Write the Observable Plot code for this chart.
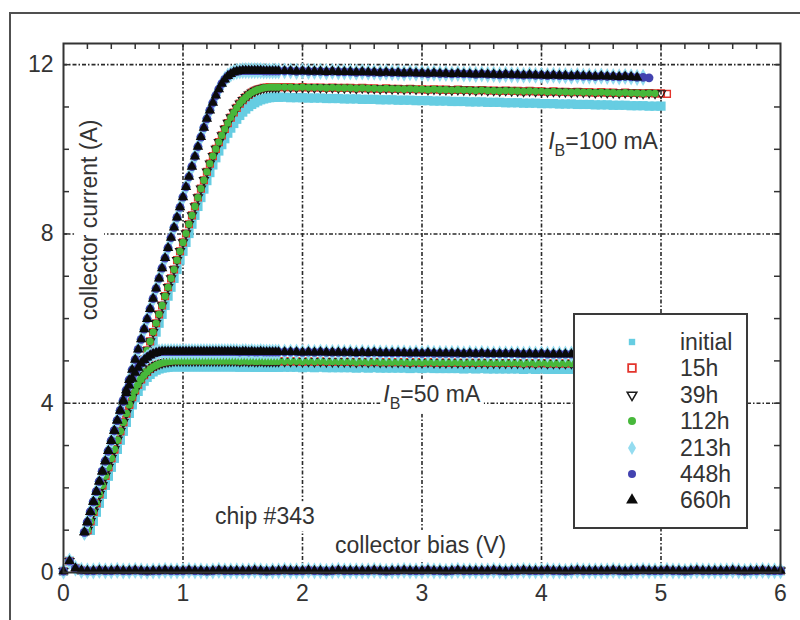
<!DOCTYPE html>
<html><head><meta charset="utf-8">
<script src="https://cdn.jsdelivr.net/npm/d3@7"></script>
<script src="https://cdn.jsdelivr.net/npm/@observablehq/plot@0.6"></script>
<style>
body{margin:0;background:#fff;}
#wrap{position:relative;width:800px;height:620px;overflow:hidden;font-family:"Liberation Sans",Arial,sans-serif;color:#333;}
#chart{position:absolute;left:0;top:0;}
#border{position:absolute;left:9px;top:12px;width:820px;height:640px;border-top:2px solid #505050;border-left:2px solid #505050;}
#legend{position:absolute;left:573px;top:313px;width:175px;height:216px;box-sizing:border-box;border:2px solid #3a3a3a;background:#fff;}
.row{position:absolute;left:0;height:26px;width:100%;}
.row svg{position:absolute;left:47px;top:3px;}
.row span{position:absolute;left:105px;top:0;font-size:23px;line-height:26px;color:#333;}
</style></head>
<body><div id="wrap"><div id="chart"></div><div id="border"></div><div id="legend"></div></div>
<script>
const seriesNames = ["initial","15h","39h","112h","213h","448h","660h"];

const volts = [
 0.175,0.2,0.225,0.25,0.275,0.3,0.325,0.35,0.375,0.4,
 0.425,0.45,0.475,0.5,0.525,0.55,0.575,0.6,0.625,0.65,
 0.675,0.7,0.725,0.75,0.775,0.8,0.825,0.85,0.875,0.9,
 0.925,0.95,0.975,1.0,1.025,1.05,1.075,1.1,1.125,1.15,
 1.175,1.2,1.225,1.25,1.275,1.3,1.325,1.35,1.375,1.4,
 1.425,1.45,1.475,1.5,1.525,1.55,1.575,1.6,1.625,1.65,
 1.675,1.7,1.725,1.75,1.775,1.8,
 1.85,1.9,1.95,2.0,2.05,2.1,2.15,2.2,2.25,2.3,
 2.35,2.4,2.45,2.5,2.55,2.6,2.65,2.7,2.75,2.8,
 2.85,2.9,2.95,3.0,3.05,3.1,3.15,3.2,3.25,3.3,
 3.35,3.4,3.45,3.5,3.55,3.6,3.65,3.7,3.75,3.8,
 3.85,3.9,3.95,4.0,4.05,4.1,4.15,4.2,4.25,4.3,
 4.35,4.4,4.45,4.5,4.55,4.6,4.65,4.7,4.75,4.8,
 4.85,4.9,4.95,5.0,5.05
];

// I_B = 100 mA
const cur100Fast = [
 0.95,1.19,1.43,1.67,1.91,2.15,2.39,2.63,2.87,3.11,
 3.35,3.59,3.83,4.07,4.31,4.55,4.79,5.03,5.27,5.51,
 5.75,5.99,6.23,6.47,6.71,6.95,7.19,7.43,7.67,7.91,
 8.15,8.39,8.63,8.87,9.11,9.35,9.59,9.83,10.06,10.29,
 10.51,10.72,10.92,11.1,11.27,11.42,11.55,11.65,11.73,11.78,
 11.82,11.84,11.85,11.86,11.86,11.86,11.86,11.86,11.86,11.86,
 11.85,11.85,11.85,11.85,11.85,11.85,
 11.85,11.85,11.84,11.85,11.84,11.84,11.84,11.83,11.84,11.83,
 11.83,11.83,11.82,11.83,11.82,11.82,11.81,11.82,11.81,11.81,
 11.8,11.81,11.8,11.8,11.79,11.8,11.79,11.79,11.78,11.79,
 11.78,11.78,11.77,11.78,11.77,11.77,11.76,11.77,11.76,11.76,
 11.75,11.76,11.75,11.75,11.74,11.75,11.74,11.74,11.73,11.74,
 11.73,11.73,11.72,11.73,11.72,11.72,11.71,11.72,11.71,11.7,
 11.7,11.69
];
const cur100Slow = [
 null,1.0,1.21,1.43,1.64,1.85,2.06,2.28,2.49,2.7,
 2.91,3.13,3.34,3.55,3.76,3.98,4.19,4.4,4.61,4.83,
 5.04,5.25,5.46,5.68,5.89,6.1,6.31,6.53,6.74,6.95,
 7.16,7.38,7.59,7.8,8.01,8.23,8.44,8.65,8.86,9.07,
 9.27,9.47,9.66,9.84,10.01,10.17,10.33,10.48,10.62,10.75,
 10.87,10.98,11.08,11.16,11.23,11.29,11.34,11.38,11.41,11.43,
 11.45,11.46,11.47,11.47,11.47,11.47,
 11.47,11.47,11.46,11.47,11.46,11.46,11.46,11.45,11.46,11.45,
 11.45,11.45,11.44,11.45,11.44,11.44,11.43,11.44,11.43,11.43,
 11.42,11.43,11.42,11.42,11.41,11.42,11.41,11.41,11.4,11.41,
 11.4,11.4,11.39,11.4,11.39,11.39,11.38,11.39,11.38,11.38,
 11.37,11.38,11.37,11.37,11.36,11.37,11.36,11.36,11.35,11.36,
 11.35,11.35,11.34,11.35,11.34,11.34,11.33,11.34,11.33,11.33,
 11.32,11.33,11.32,11.32,11.31
];
const cur100Initial = [
 null,null,1.0,1.21,1.43,1.64,1.85,2.06,2.28,2.49,
 2.7,2.91,3.13,3.34,3.55,3.76,3.98,4.19,4.4,4.61,
 4.83,5.04,5.25,5.46,5.68,5.89,6.1,6.31,6.53,6.74,
 6.95,7.16,7.38,7.59,7.8,8.01,8.23,8.44,8.65,8.86,
 9.06,9.26,9.45,9.63,9.8,9.96,10.11,10.25,10.38,10.5,
 10.61,10.71,10.8,10.88,10.95,11.01,11.06,11.1,11.14,11.17,
 11.19,11.21,11.22,11.23,11.23,11.23,
 11.23,11.22,11.22,11.22,11.21,11.21,11.21,11.2,11.2,11.2,
 11.19,11.19,11.19,11.18,11.18,11.18,11.17,11.17,11.17,11.16,
 11.16,11.16,11.15,11.15,11.15,11.14,11.14,11.14,11.13,11.13,
 11.13,11.12,11.12,11.12,11.11,11.11,11.11,11.1,11.1,11.1,
 11.09,11.09,11.09,11.08,11.08,11.08,11.07,11.07,11.07,11.06,
 11.06,11.06,11.05,11.05,11.05,11.04,11.04,11.04,11.03,11.03,
 11.03,11.02,11.02,11.02
];

// I_B = 50 mA
const cur50Fast = [
 0.95,1.19,1.43,1.67,1.91,2.15,2.39,2.63,2.87,3.11,
 3.35,3.59,3.82,4.04,4.24,4.42,4.58,4.72,4.84,4.94,
 5.02,5.08,5.13,5.17,5.19,5.21,5.22,5.22,5.22,5.22,
 5.22,5.22,5.22,5.22,5.22,5.22,5.22,5.22,5.22,5.22,
 5.22,5.22,5.22,5.22,5.22,5.22,5.22,5.22,5.22,5.22,
 5.22,5.22,5.21,5.22,5.22,5.21,5.22,5.21,5.21,5.22,
 5.21,5.21,5.21,5.21,5.21,5.21,
 5.21,5.21,5.21,5.2,5.21,5.2,5.21,5.2,5.2,5.2,
 5.2,5.2,5.19,5.2,5.19,5.2,5.19,5.19,5.19,5.19,
 5.19,5.18,5.19,5.18,5.19,5.18,5.18,5.18,5.18,5.18,
 5.17,5.18,5.17,5.18,5.17,5.17,5.17,5.17,5.17,5.17,
 5.16,5.17,5.16,5.17,5.16,5.16,5.16,5.16,5.16,5.16,
 5.15,5.16,5.15,5.15,5.15,5.15,5.15,5.15,5.15,5.15,
 5.14,5.15,5.14,5.14
];
const cur50Slow = [
 null,1.0,1.21,1.43,1.64,1.85,2.06,2.28,2.49,2.7,
 2.91,3.13,3.34,3.55,3.76,3.96,4.14,4.3,4.44,4.56,
 4.66,4.74,4.81,4.86,4.9,4.93,4.95,4.97,4.98,4.99,
 5.0,5.0,5.0,5.0,5.0,5.0,5.0,5.0,5.0,5.0,
 5.0,5.0,5.0,5.0,5.0,5.0,5.0,5.0,5.0,5.0,
 5.0,5.0,4.99,5.0,5.0,4.99,5.0,4.99,4.99,5.0,
 4.99,4.99,4.99,4.99,4.99,4.99,
 4.99,4.99,4.99,4.98,4.99,4.98,4.99,4.98,4.98,4.98,
 4.98,4.98,4.97,4.98,4.97,4.98,4.97,4.97,4.97,4.97,
 4.97,4.96,4.97,4.96,4.97,4.96,4.96,4.96,4.96,4.96,
 4.95,4.96,4.95,4.96,4.95,4.95,4.95,4.95,4.95,4.95,
 4.94,4.95,4.94,4.95,4.94,4.94,4.94,4.94,4.94,4.94,
 4.93,4.94,4.93,4.93,4.93,4.93,4.93,4.93,4.93,4.93,
 4.92,4.93,4.92,4.92
];
const cur50Initial = [
 null,null,1.0,1.21,1.43,1.64,1.85,2.06,2.28,2.49,
 2.7,2.91,3.13,3.34,3.55,3.76,3.96,4.13,4.28,4.41,
 4.52,4.61,4.68,4.74,4.78,4.81,4.83,4.84,4.85,4.86,
 4.86,4.86,4.86,4.86,4.86,4.86,4.86,4.86,4.86,4.86,
 4.86,4.86,4.86,4.86,4.86,4.86,4.86,4.86,4.86,4.86,
 4.86,4.86,4.85,4.86,4.86,4.85,4.86,4.85,4.85,4.86,
 4.85,4.85,4.85,4.85,4.85,4.85,
 4.85,4.85,4.85,4.84,4.85,4.84,4.85,4.84,4.84,4.84,
 4.84,4.84,4.83,4.84,4.83,4.84,4.83,4.83,4.83,4.83,
 4.83,4.82,4.83,4.82,4.83,4.82,4.82,4.82,4.82,4.82,
 4.81,4.82,4.81,4.82,4.81,4.81,4.81,4.81,4.81,4.81,
 4.8,4.81,4.8,4.81,4.8,4.8,4.8,4.8,4.8,4.8,
 4.79,4.8,4.79,4.79,4.79,4.79,4.79,4.79,4.79,4.79,
 4.78,4.79,4.78,4.78
];

// last bias point of each series (same order as seriesNames)
const lastV100 = [5.0, 5.05, 5.0, 4.95, 4.85, 4.9, 4.8];
const lastV50  = [5.0, 5.0, 5.0, 5.0, 5.0, 5.0, 5.0];

// I_B = 0 sweep
const voltsZero = [
 0,0.05,0.1,0.15,0.2,0.25,0.3,0.35,0.4,0.45,
 0.5,0.55,0.6,0.65,0.7,0.75,0.8,0.85,0.9,0.95,
 1.0,1.05,1.1,1.15,1.2,1.25,1.3,1.35,1.4,1.45,
 1.5,1.55,1.6,1.65,1.7,1.75,1.8,1.85,1.9,1.95,
 2.0,2.05,2.1,2.15,2.2,2.25,2.3,2.35,2.4,2.45,
 2.5,2.55,2.6,2.65,2.7,2.75,2.8,2.85,2.9,2.95,
 3.0,3.05,3.1,3.15,3.2,3.25,3.3,3.35,3.4,3.45,
 3.5,3.55,3.6,3.65,3.7,3.75,3.8,3.85,3.9,3.95,
 4.0,4.05,4.1,4.15,4.2,4.25,4.3,4.35,4.4,4.45,
 4.5,4.55,4.6,4.65,4.7,4.75,4.8,4.85,4.9,4.95,
 5.0,5.05,5.1,5.15,5.2,5.25,5.3,5.35,5.4,5.45,
 5.5,5.55,5.6,5.65,5.7,5.75,5.8,5.85,5.9,5.95,
 6.0
];
const curZero = [
 0.03,0.27,0.1,0.05,0.04,0.04,0.05,0.04,0.04,0.05,
 0.04,0.04,0.05,0.04,0.03,0.04,0.04,0.05,0.04,0.04,
 0.04,0.05,0.04,0.04,0.03,0.04,0.05,0.04,0.04,0.04,
 0.04,0.04,0.05,0.04,0.03,0.04,0.04,0.05,0.04,0.04,
 0.04,0.05,0.04,0.04,0.03,0.04,0.05,0.04,0.04,0.04,
 0.04,0.04,0.05,0.04,0.03,0.04,0.04,0.05,0.04,0.04,
 0.04,0.05,0.04,0.04,0.03,0.04,0.05,0.04,0.04,0.04,
 0.04,0.04,0.05,0.04,0.03,0.04,0.04,0.05,0.04,0.04,
 0.04,0.05,0.04,0.04,0.03,0.04,0.05,0.04,0.04,0.04,
 0.04,0.04,0.05,0.04,0.03,0.04,0.04,0.05,0.04,0.04,
 0.04,0.05,0.04,0.04,0.03,0.04,0.05,0.04,0.04,0.04,
 0.04,0.04,0.05,0.04,0.03,0.04,0.04,0.05,0.04,0.04,
 0.04
];

const xTicks = [0,1,2,3,4,5,6];
const yTicks = [0,4,8,12];
const xGrid = [1,2,3,4,5];
const yGrid = [4,8,12];
const xMinor = [0.2,0.4,0.6,0.8,1,1.2,1.4,1.6,1.8,2,2.2,2.4,2.6,2.8,3,3.2,3.4,3.6,3.8,4,4.2,4.4,4.6,4.8,5,5.2,5.4,5.6,5.8];
const yMinor = [1,2,3,4,5,6,7,8,9,10,11,12];

// which measured profile each series follows
const profile100 = [cur100Initial, cur100Slow, cur100Slow, cur100Slow, cur100Fast, cur100Fast, cur100Fast];
const profile50  = [cur50Initial, cur50Slow, cur50Slow, cur50Slow, cur50Fast, cur50Fast, cur50Fast];

const rows = [];
seriesNames.forEach((s, k) => {
  for (const [vs, cur, last] of [[volts, profile100[k], lastV100[k]], [volts, profile50[k], lastV50[k]], [voltsZero, curZero, 6]]) {
    const n = Math.min(vs.length, cur.length);
    for (let j = 0; j < n; j++) {
      if (cur[j] == null || vs[j] > last + 1e-9) continue;
      rows.push({s, v: vs[j], i: cur[j]});
    }
  }
});

const triDown = {draw(ctx, size) {
  const y = -Math.sqrt(size / (Math.sqrt(3) * 3));
  ctx.moveTo(0, -y * 2);
  ctx.lineTo(-Math.sqrt(3) * y, y);
  ctx.lineTo(Math.sqrt(3) * y, y);
  ctx.closePath();
}};

const styles = {
  "initial": {symbol: d3.symbolSquare, r: 5.2, lr: 3.6, fill: "#66cde2", stroke: "none"},
  "15h": {symbol: d3.symbolSquare, r: 3.8, lr: 4.3, fill: "none", stroke: "#e3342c", strokeWidth: 1.4},
  "39h": {symbol: triDown, r: 3.4, lr: 3.6, fill: "none", stroke: "#1a1a1a", strokeWidth: 1.1},
  "112h": {symbol: d3.symbolCircle, r: 3.6, lr: 4.0, fill: "#47b83b", stroke: "none"},
  "213h": {symbol: d3.symbolDiamond, r: 5.2, lr: 4.2, fill: "#94dcf0", stroke: "none"},
  "448h": {symbol: d3.symbolCircle, r: 4.4, lr: 4.0, fill: "#4343b0", stroke: "none"},
  "660h": {symbol: d3.symbolTriangle, r: 3.9, lr: 4.4, fill: "#0b0b0b", stroke: "none"}
};

const gridStyle = {stroke: "#2a2a2a", strokeWidth: 1.6, strokeDasharray: "4,2,1.5,2"};
const tickStyle = {stroke: "#333", strokeWidth: 1.5};
const plotW = 800 - 63 - 20, plotH = 620 - 43 - 48;

const svg = Plot.plot({
  width: 800, height: 620,
  marginLeft: 63, marginRight: 20, marginTop: 43, marginBottom: 48,
  x: {domain: [0, 6]},
  y: {domain: [0, 12.5]},
  style: {fontFamily: "'Liberation Sans', Arial, sans-serif", fontSize: "23px", color: "#333", background: "transparent", overflow: "visible"},
  marks: [
    Plot.ruleX(xGrid, {x: d => d, ...gridStyle}),
    Plot.ruleY(yGrid, {y: d => d, ...gridStyle}),
    Plot.tickX(xMinor, {x: d => d, insetTop: plotH - 6, ...tickStyle}),
    Plot.tickX(xMinor, {x: d => d, insetBottom: plotH - 6, ...tickStyle}),
    Plot.tickY(yMinor, {y: d => d, insetRight: plotW - 6, ...tickStyle}),
    Plot.tickY(yMinor, {y: d => d, insetLeft: plotW - 6, ...tickStyle}),
    ...seriesNames.map(name => {
      const st = styles[name];
      return Plot.dot(rows.filter(d => d.s === name), {
        x: "v", y: "i", symbol: st.symbol, r: st.r,
        fill: st.fill, stroke: st.stroke, strokeWidth: st.strokeWidth || 1
      });
    }),
    Plot.frame({stroke: "#333", strokeWidth: 2}),
    Plot.axisX(xTicks, {tickSize: 0, tickPadding: 12, fontSize: 23, label: null, fill: "#333", tickFormat: d => String(d)}),
    Plot.axisY(yTicks, {tickSize: 0, tickPadding: 10, fontSize: 23, label: null, fill: "#333", tickFormat: d => String(d)})
  ]
});
document.getElementById("chart").appendChild(svg);

const sx = svg.scale("x"), sy = svg.scale("y");
const NS = "http://www.w3.org/2000/svg";
function label(parts, xv, yv, {anchor = "start", rotate = 0, bg = 0, baseline = null} = {}) {
  const g = document.createElementNS(NS, "g");
  g.setAttribute("transform", `translate(${sx.apply(xv)},${sy.apply(yv)}) rotate(${rotate})`);
  const t = document.createElementNS(NS, "text");
  t.setAttribute("text-anchor", anchor);
  t.setAttribute("font-size", 23);
  t.setAttribute("fill", "#333");
  t.setAttribute("font-family", "'Liberation Sans', Arial, sans-serif");
  if (baseline) t.setAttribute("dominant-baseline", baseline);
  for (const p of parts) {
    const ts = document.createElementNS(NS, "tspan");
    ts.textContent = p.t;
    if (p.italic) ts.setAttribute("font-style", "italic");
    if (p.size) ts.setAttribute("font-size", p.size);
    if (p.dy) ts.setAttribute("dy", p.dy);
    t.appendChild(ts);
  }
  g.appendChild(t);
  svg.appendChild(g);
  if (bg) {
    const b = t.getBBox();
    const r = document.createElementNS(NS, "rect");
    r.setAttribute("x", b.x - bg); r.setAttribute("y", b.y - 2);
    r.setAttribute("width", b.width + 2 * bg); r.setAttribute("height", b.height + 4);
    r.setAttribute("fill", "#fff");
    g.insertBefore(r, t);
  }
}
label([{t: "collector current (A)"}], 0.218, 8.32, {anchor: "middle", rotate: -90, bg: 10, baseline: "central"});
label([{t: "collector bias (V)"}], 2.276, 0.45, {bg: 3});
label([{t: "chip #343"}], 1.272, 1.13, {bg: 3});
label([{t: "I", italic: true}, {t: "B", size: 16, dy: 7}, {t: "=100 mA", dy: -7}], 4.06, 10.0);
label([{t: "I", italic: true}, {t: "B", size: 16, dy: 7}, {t: "=50 mA", dy: -7}], 2.68, 4.02, {bg: 3});

// legend
const legend = document.getElementById("legend");
seriesNames.forEach((name, k) => {
  const st = styles[name];
  const row = document.createElement("div");
  row.className = "row";
  row.style.top = (14 + k * 26.4) + "px";
  const s = d3.create("svg").attr("width", 20).attr("height", 20);
  s.append("path")
    .attr("transform", "translate(10,10)")
    .attr("d", d3.symbol(st.symbol, Math.PI * st.lr * st.lr)())
    .attr("fill", st.fill).attr("stroke", st.stroke)
    .attr("stroke-width", (st.strokeWidth || 1) + 0.4);
  row.appendChild(s.node());
  const sp = document.createElement("span");
  sp.textContent = name;
  row.appendChild(sp);
  legend.appendChild(row);
});
</script></body></html>
